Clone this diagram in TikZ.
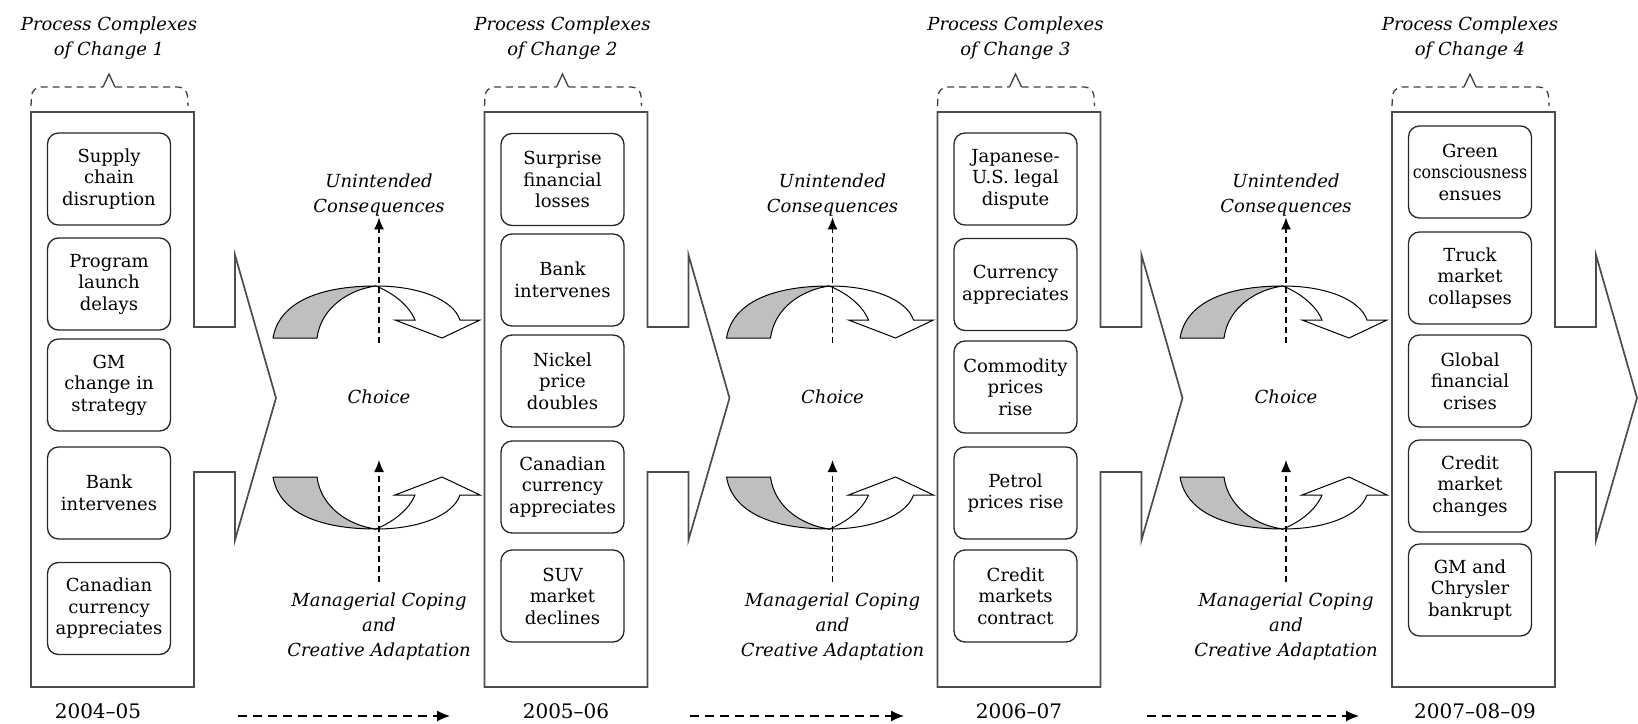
\documentclass[tikz,border=0pt]{standalone}
\usepackage{fontspec}
\setmainfont{DejaVu Serif}
\usetikzlibrary{arrows.meta}
% twisted loop arrow around the choice point; #1 = x of centre, #2 = +1 upper, -1 lower
\newcommand\ribbonloop[2]{%
  \begin{scope}[shift={(#1,407.5)},yscale=#2]
    \filldraw[fill=black!25,draw=black,line width=1pt,line join=round]
      (-106,-69.5) .. controls (-100,-105) and (-60,-121.5) .. (-3,-121.5)
      .. controls (-30,-118) and (-58,-100) .. (-62,-69.5) -- cycle;
    \filldraw[fill=white,draw=black,line width=1pt,line join=miter]
      (-3,-121.5) .. controls (40,-121.5) and (74,-108) .. (81,-87.5)
      -- (101,-87.5) -- (63,-69.5) -- (16,-87.5) -- (36,-87.5)
      .. controls (30,-102) and (15,-114) .. (-3,-121.5) -- cycle;
  \end{scope}}
\begin{document}
\begin{tikzpicture}[x=1pt,y=-1pt,
  frame/.style={draw=black!70,line width=1.7pt,line join=miter},
  event/.style={draw=black!85,line width=1.3pt,rounded corners=11pt,
    minimum width=123pt,minimum height=92pt,inner sep=1pt,align=center,
    font=\fontsize{18}{21.5}\selectfont},
  caption/.style={align=center,inner sep=1pt,font=\fontsize{18}{25}\selectfont\itshape},
  yearlabel/.style={inner sep=1pt,font=\fontsize{20}{24}\selectfont},
  braceline/.style={draw=black!75,line width=1.3pt,dash pattern=on 7pt off 5pt,rounded corners=9pt},
  bracetip/.style={draw=black!75,line width=1.3pt},
  vdash/.style={draw=black,line width=1.2pt,dash pattern=on 6pt off 4pt,-{Latex[length=12pt,width=10pt]}},
  tdash/.style={draw=black,line width=1.2pt,dash pattern=on 9pt off 6pt,-{Latex[length=13pt,width=11pt]}}
]
\useasboundingbox (0,0) rectangle (1638,723);

% period frames with their forward arrows
\foreach \x in {31,484.5,937.5,1392}{
  \draw[frame] (\x,112) -- (\x+163,112) -- (\x+163,327) -- (\x+204,327)
    -- (\x+204,255) -- (\x+245,398) -- (\x+204,540) -- (\x+204,472)
    -- (\x+163,472) -- (\x+163,687) -- (\x,687) -- cycle;
  % dashed brace over the frame
  \draw[braceline] (\x,106) -- (\x+1,87) -- (\x+72,87);
  \draw[braceline] (\x+84,87) -- (\x+156,87) -- (\x+157,106);
  \draw[bracetip] (\x+72,87) -- (\x+78,74) -- (\x+84,87);
}

% captions above the braces
\node[caption] (pc1) at (109,38)  {Process Complexes\\of Change 1};
\node[caption] (pc2) at (562.5,38) {Process Complexes\\of Change 2};
\node[caption] (pc3) at (1015.5,38) {Process Complexes\\of Change 3};
\node[caption] (pc4) at (1470,38) {Process Complexes\\of Change 4};

% events, 2004-05
\node[event] (e11) at (109,179)   {Supply\\chain\\disruption};
\node[event] (e12) at (109,284)   {Program\\launch\\delays};
\node[event] (e13) at (109,385)   {GM\\change in\\strategy};
\node[event] (e14) at (109,493)   {Bank\\intervenes};
\node[event] (e15) at (109,608.5) {Canadian\\currency\\appreciates};

% events, 2005-06
\node[event] (e21) at (562.5,179.5) {Surprise\\financial\\losses};
\node[event] (e22) at (562.5,280)   {Bank\\intervenes};
\node[event] (e23) at (562.5,381)   {Nickel\\price\\doubles};
\node[event] (e24) at (562.5,487)   {Canadian\\currency\\appreciates};
\node[event] (e25) at (562.5,596)   {SUV\\market\\declines};

% events, 2006-07
\node[event] (e31) at (1015.5,179)   {Japanese-\\U.S. legal\\dispute};
\node[event] (e32) at (1015.5,284.5) {Currency\\appreciates};
\node[event] (e33) at (1015.5,387)   {Commodity\\prices\\rise};
\node[event] (e34) at (1015.5,493)   {Petrol\\prices rise};
\node[event] (e35) at (1015.5,596)   {Credit\\markets\\contract};

% events, 2007-08-09
\node[event] (e41) at (1470,172) {Green\\\scalebox{0.88}[1]{consciousness}\\ensues};
\node[event] (e42) at (1470,278) {Truck\\market\\collapses};
\node[event] (e43) at (1470,381) {Global\\financial\\crises};
\node[event] (e44) at (1470,486) {Credit\\market\\changes};
\node[event] (e45) at (1470,590) {GM and\\Chrysler\\bankrupt};

% choice loops between the frames
\foreach \c/\i in {379/1,832.5/2,1286/3}{
  \ribbonloop{\c}{1}
  \ribbonloop{\c}{-1}
  \node[caption] (uc\i) at (\c,195) {Unintended\\Consequences};
  \node[caption] (ch\i) at (\c,397) {Choice};
  \node[caption] (mc\i) at (\c,627) {Managerial Coping\\and\\Creative Adaptation};
  \coordinate (us\i) at (\c,343);
  \coordinate (ms\i) at (\c,582);
  \coordinate (me\i) at (\c,460);
  \draw[vdash] (us\i) -- (uc\i.south);
  \draw[vdash] (ms\i) -- (me\i);
}

% time line
\node[yearlabel] (y1) at (98,711)   {2004--05};
\node[yearlabel] (y2) at (566,711)  {2005--06};
\node[yearlabel] (y3) at (1019,711) {2006--07};
\node[yearlabel] (y4) at (1475,711) {2007--08--09};
\coordinate (t1s) at (238,716);  \coordinate (t1e) at (450,716);
\coordinate (t2s) at (690,716);  \coordinate (t2e) at (904,716);
\coordinate (t3s) at (1147,716); \coordinate (t3e) at (1359,716);
\draw[tdash] (t1s) -- (t1e);
\draw[tdash] (t2s) -- (t2e);
\draw[tdash] (t3s) -- (t3e);
\end{tikzpicture}
\end{document}
